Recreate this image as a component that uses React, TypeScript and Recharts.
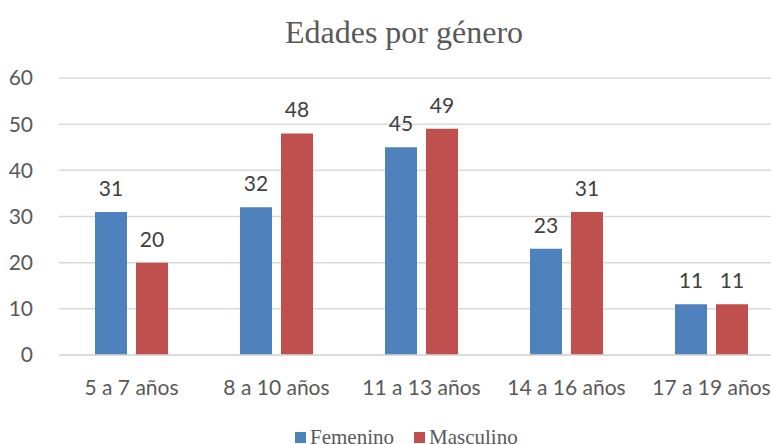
import { BarChart, Bar, XAxis, YAxis, CartesianGrid, LabelList } from 'recharts';

const categories = ['5 a 7 años', '8 a 10 años', '11 a 13 años', '14 a 16 años', '17 a 19 años'];
const femenino = [31, 32, 45, 23, 11];
const masculino = [20, 48, 49, 31, 11];
const yTicks = [0, 10, 20, 30, 40, 50, 60];

const data = categories.map((name, i) => ({
  name,
  Femenino: femenino[i],
  Masculino: masculino[i],
}));

const BLUE = '#4F81BD';
const RED = '#C0504D';
const TEXT = '#595959';
const SANS = 'Lato, "Open Sans", sans-serif';
const SERIF = '"Liberation Serif", "Times New Roman", serif';

export default function App() {
  return (
    <div
      style={{
        position: 'fixed',
        left: 0,
        top: 0,
        width: 771,
        height: 444,
        overflow: 'hidden',
        background: '#fff',
      }}
    >
      <div
        style={{
          position: 'absolute',
          top: 12,
          left: 0,
          width: 808,
          textAlign: 'center',
          fontFamily: SERIF,
          fontSize: 32,
          color: TEXT,
          lineHeight: '40px',
        }}
      >
        Edades por género
      </div>
      <div style={{ position: 'absolute', left: 0, top: 0 }}>
        <BarChart
          width={800}
          height={444}
          data={data}
          margin={{ top: 78, right: 16, bottom: 59, left: 0 }}
          barSize={32}
          barGap={9}
        >
          <CartesianGrid vertical={false} stroke="#D9D9D9" strokeWidth={1.5} />
          <XAxis
            dataKey="name"
            height={30}
            axisLine={{ stroke: '#D9D9D9', strokeWidth: 1.5 }}
            tickLine={false}
            tickMargin={19}
            interval={0}
            tick={{ fill: TEXT, fontFamily: SANS, fontSize: 21 }}
          />
          <YAxis
            width={59}
            domain={[0, 60]}
            ticks={yTicks}
            axisLine={false}
            tickLine={false}
            tickMargin={20}
            tick={{ fill: TEXT, fontFamily: SANS, fontSize: 21 }}
          />
          <Bar dataKey="Femenino" fill={BLUE} isAnimationActive={false}>
            <LabelList
              dataKey="Femenino"
              position="top"
              offset={16}
              style={{ fill: '#404040', fontFamily: SANS, fontSize: 21 }}
            />
          </Bar>
          <Bar dataKey="Masculino" fill={RED} isAnimationActive={false}>
            <LabelList
              dataKey="Masculino"
              position="top"
              offset={16}
              style={{ fill: '#404040', fontFamily: SANS, fontSize: 21 }}
            />
          </Bar>
        </BarChart>
      </div>
      <div
        style={{
          position: 'absolute',
          top: 426,
          left: 295,
          display: 'flex',
          alignItems: 'center',
          fontFamily: SERIF,
          fontSize: 21,
          color: TEXT,
          lineHeight: '22px',
        }}
      >
        <span style={{ width: 11, height: 11, background: BLUE, marginRight: 4 }} />
        <span style={{ marginRight: 20 }}>Femenino</span>
        <span style={{ width: 11, height: 11, background: RED, marginRight: 4 }} />
        <span>Masculino</span>
      </div>
    </div>
  );
}
